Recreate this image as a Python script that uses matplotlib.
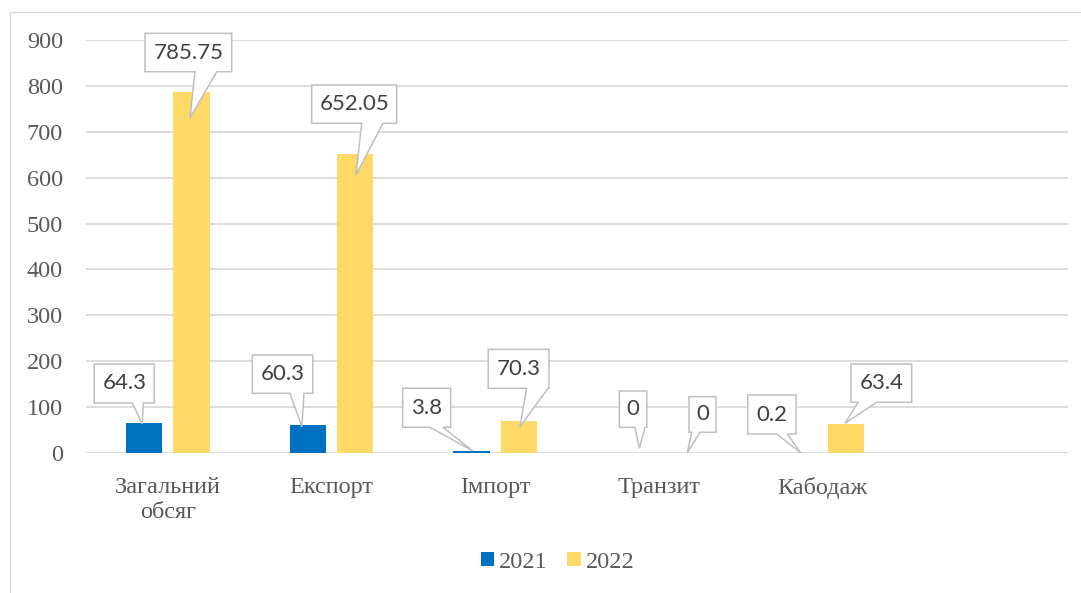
import matplotlib
matplotlib.use('Agg')
import matplotlib.pyplot as plt
import matplotlib.patches as patches
import matplotlib.transforms as mtransforms
import numpy as np

# data
categories = ['Загальний\nобсяг', 'Експорт', 'Імпорт', 'Транзит', 'Кабодаж']
years = ['2021', '2022']
values_2021 = [64.3, 60.3, 3.8, 0, 0.2]
values_2022 = [785.75, 652.05, 70.3, 0, 63.4]
label_2021 = ['64.3', '60.3', '3.8', '0', '0.2']
label_2022 = ['785.75', '652.05', '70.3', '0', '63.4']

BLUE = '#0070C0'
YELLOW = '#FFD966'
GRID = '#D9D9D9'
TEXT = '#595959'

# callout geometry, pixels relative to bar top (x right, y down):
# tip (dx, dy), box (left, right, top, bottom), pointer base (x0, x1)
callouts_2021 = [
    ((-2, 0.5), (-50, 10, -59.5, -20.5), (-12, -1)),
    ((-6, 1.4), (-55.6, 4.8, -70.3, -32), (-18, -4)),
    ((1.1, -0.3), (-68.9, -20.9, -63, -24), (-41.6, -28.6)),
    ((4.1, -4.7), (-15.9, 11.5, -62, -25.7), (-0.2, 9.8)),
    ((1.8, -0.2), (-51.2, -2.9, -57.9, -18.9), (-22.2, -11.6)),
]
callouts_2022 = [
    ((-1.4, 25.6), (-46.4, 40.3, -59.1, -20.7), (3.6, 25.3)),
    ((0.9, 21.2), (-43.4, 41.6, -68.8, -30.5), (6.6, 27.9)),
    ((1.2, 6), (-30.5, 30.2, -71.4, -32.4), (7.9, 29.2)),
    ((4.9, -0.3), (6.6, 33.6, -56.3, -20.7), (9.3, 17.6)),
    ((-1.1, -0.6), (4.9, 65.6, -59.9, -21.6), (12.2, 30.6)),
]

W, H = 1081, 593
fig = plt.figure(figsize=(W / 100, H / 100), dpi=100)
ax = fig.add_axes([86 / W, 1 - 453 / H, (1068 - 86) / W, (453 - 40) / H])

x = np.arange(len(categories))
bw = 0.222
off = 0.144
ax.bar(x - off, values_2021, bw, color=BLUE, label=years[0], zorder=3)
ax.bar(x + off, values_2022, bw, color=YELLOW, label=years[1], zorder=3)

ax.set_xlim(-0.5, 5.5)
ax.set_ylim(0, 900)
ax.set_yticks(range(0, 901, 100))
ax.set_xticks(x)
ax.set_xticklabels(categories, family='Liberation Serif', fontsize=17.5,
                   color=TEXT, linespacing=1.27)
for lab in ax.get_yticklabels():
    lab.set_family('Liberation Serif')
    lab.set_fontsize(17.5)
    lab.set_color(TEXT)
ax.tick_params(axis='y', length=0, pad=16.5)
ax.tick_params(axis='x', length=0, pad=17)
ax.grid(axis='y', color=GRID, linewidth=1.3, zorder=0)
for s in ax.spines.values():
    s.set_visible(False)

# outer chart border (left and top visible)
fig.add_artist(patches.Rectangle((10 / W, -0.1), 1.2, 1 - 12 / H + 0.1,
                                 fill=False, edgecolor=GRID, linewidth=1,
                                 transform=fig.transFigure))

leg = fig.legend(loc='center', bbox_to_anchor=(557.5 / W, 1 - 562 / H), ncol=2,
                 frameon=False, prop={'family': 'Liberation Serif', 'size': 17.5},
                 handlelength=0.55, handleheight=0.55, handletextpad=0.2,
                 columnspacing=0.8, borderpad=0)
for t in leg.get_texts():
    t.set_color(TEXT)

ident = mtransforms.IdentityTransform()


def draw_callout(xv, yv, text, geom):
    ax_, ay_ = ax.transData.transform((xv, yv))
    (tx, ty), (l, r, t, b), (b0, b1) = geom

    def p(dx, dy):
        return (ax_ + dx, ay_ - dy)

    pts = [p(l, t), p(r, t), p(r, b), p(b1, b), p(tx, ty), p(b0, b), p(l, b)]
    poly = patches.Polygon(pts, closed=True, facecolor='white', edgecolor='#BFBFBF',
                           linewidth=1.1, transform=ident, zorder=5)
    fig.add_artist(poly)
    cx, cy = p((l + r) / 2, (t + b) / 2)
    fig.text(cx, cy, text, transform=ident, ha='center', va='center',
             family='Lato', fontsize=16, color='#404040', zorder=6)


fig.canvas.draw()
for i in range(len(categories)):
    draw_callout(x[i] - off, values_2021[i], label_2021[i], callouts_2021[i])
    draw_callout(x[i] + off, values_2022[i], label_2022[i], callouts_2022[i])

fig.savefig('out.png', dpi=100, facecolor='white')
